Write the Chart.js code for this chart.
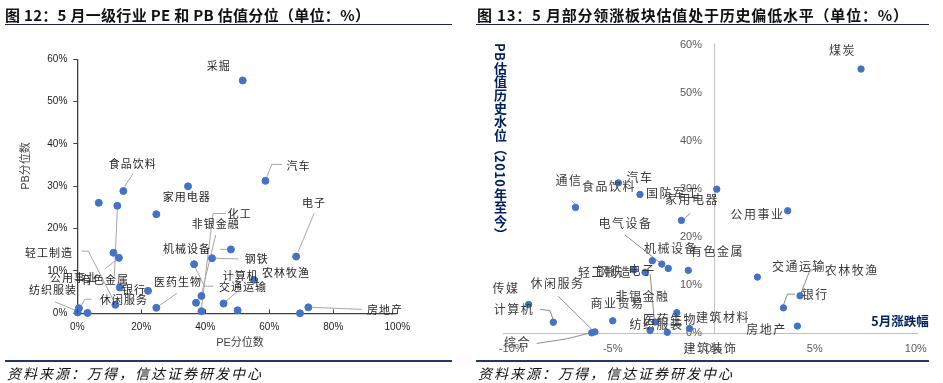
<!DOCTYPE html>
<html><head><meta charset="utf-8">
<script src="https://cdn.jsdelivr.net/npm/chart.js@4.4.1/dist/chart.umd.min.js"></script>
<style>
html,body{margin:0;padding:0;background:#fff;}
#wrap{position:relative;width:943px;height:383px;overflow:hidden;font-family:"Noto Sans CJK SC",sans-serif;}
canvas{position:absolute;top:0;}
.title{position:absolute;top:5px;font-size:15px;font-weight:700;color:#111;white-space:nowrap;line-height:20px;}
.rule{position:absolute;top:23.5px;height:0;border-top:1.5px solid #1c2541;}
.rule2{position:absolute;top:360px;height:0;border-top:2px solid #1f3864;}
.src{position:absolute;top:362.5px;font-size:14px;font-style:italic;letter-spacing:2px;color:#111;white-space:nowrap;line-height:20px;}
#ytitle13{position:absolute;left:493px;top:43px;writing-mode:vertical-rl;font-size:13px;font-weight:700;color:#002060;line-height:14px;white-space:nowrap;letter-spacing:0.4px;}
</style></head>
<body><div id="wrap">
<canvas id="c12" width="470" height="383" style="left:0"></canvas>
<canvas id="c13" width="473" height="383" style="left:470px"></canvas>
<div class="title" style="left:5px;letter-spacing:0.3px">图 12：5 月一级行业 PE 和 PB 估值分位（单位：%）</div>
<div class="rule" style="left:5px;width:447px"></div>
<div class="title" style="left:477px;letter-spacing:0.8px">图 13：5 月部分领涨板块估值处于历史偏低水平（单位：%）</div>
<div class="rule" style="left:476px;width:453px"></div>
<div id="ytitle13">PB估值历史水位（2010年至今）</div>
<div class="rule2" style="left:5px;width:447px"></div>
<div class="rule2" style="left:476px;width:453px"></div>
<div class="src" style="left:7px">资料来源：万得，信达证券研发中心</div>
<div class="src" style="left:478px">资料来源：万得，信达证券研发中心</div>
</div>
<script>
// ---------- Figure 12 data: PE percentile (x) vs PB percentile (y) ----------
const f12Names = ['采掘','汽车','食品饮料','家用电器','','有色金属','','电子','机械设备','钢铁','','公用事业','交通运输','非银金融','','化工','','','房地产','农林牧渔','银行','','轻工制造','休闲服务','纺织服装','','医药生物','计算机'];
const f12PE = [51.7,58.8,14.4,34.6,6.7,12.5,24.7,68.4,48.0,42.1,11.3,13.0,36.5,38.8,37.1,38.8,50.1,69.6,72.2,55.2,22.1,13.3,11.9,0.5,0.1,3.2,24.7,45.7];
const f12PB = [55.0,31.3,28.9,30.0,26.1,25.4,23.4,13.4,15.1,13.0,14.3,13.1,11.6,4.1,2.5,0.5,0.7,0.0,1.4,7.9,5.3,6.1,2.0,1.2,0.2,0.1,1.3,2.3];
const f12XTicks = [0,20,40,60,80,100];
const f12YTicks = [0,10,20,30,40,50,60];

// ---------- Figure 13 data: May change (x) vs PB historical percentile (y) ----------
const f13Names = ['煤炭','通信','汽车','食品饮料','国防军工','家用电器','公用事业','电气设备','机械设备','有色金属','钢铁','电子','轻工制造','交通运输','农林牧渔','银行','房地产','传媒','计算机','综合','休闲服务','商业贸易','非银金融','建筑材料','纺织服装','医药生物','建筑装饰'];
const f13Chg = [7.29,-6.84,-4.72,-3.65,0.15,-1.6,3.66,-2.57,-3.04,-1.26,-2.25,-3.95,-3.4,2.16,4.27,3.45,4.14,-9.16,-7.94,-6.04,-5.88,-5.0,-2.9,-1.83,-3.15,-2.3,-1.2];
const f13PB = [55.0,26.2,31.3,28.9,30.0,23.5,25.5,14.4,15.1,13.1,13.5,13.2,12.7,11.7,7.8,5.3,1.5,6.0,2.3,0.1,0.3,2.6,2.35,4.3,0.6,0.2,1.0];
const f13XTicks = [-10,-5,0,5,10];
const f13YTicks = [0,10,20,30,40,50,60];

// ---------- label layout (pixel offsets from each point) ----------
const f12LabelOff = [[-24,-15],[33,-15],[9.3,-27],[-1.3,10.4],null,[-12.3,74.5],null,[17.7,-54],[-44,-1],[44.7,1],null,[-45,20],[49,22.7],[14.3,-71.7],null,[38.3,-97.7],null,null,[76.7,2],[32,-6.7],[-14,-1],null,[-66.3,-52],[45,-8.3],[-24.7,-22.3],null,[21.7,-26],[17.3,-28]];
const f12Leaders = {1:[[1.4,-4],[6.4,-16.4],[16.4,-16.4]],2:[[1.3,-4.5],[9.6,-17.2]],5:[[0,4],[-3,71]],7:[[2,-5],[18,-43.3]],8:[[-11,0],[-4,0]],9:[[4,0],[26.3,0.7]],11:[[-1.3,1.3],[-14,11]],12:[[1,3],[10.3,22],[19.3,22]],13:[[0.3,-3],[14.3,-61]],15:[[0,-3],[11.6,-97.7],[24.3,-97.7]],18:[[4,0],[53.4,2]],22:[[-0.3,-1.4],[-27,-53.7],[-33.6,-53.7]],23:[[1,0],[6,-9],[12.7,-9]],24:[[-0.5,-1.5],[-22.7,-10.6]],26:[[2,-1.5],[20.4,-14.4]],27:[[0,-0.4],[18,-15.4]]};
const f13LabelOff = [[-18.5,-19],[-6.5,-27.3],[21.7,-5.4],[-31,-8.3],[-43.7,4.1],[10.7,-21.2],[-30.2,4],[-36.2,-40.7],[18.7,-12.4],[28.7,-18.8],[-58.3,2.7],[8,1],[-40,-0.3],[41.7,-10.6],[51.7,-25],[31.7,-13.7],[-31,3.3],[-22.7,-16],[-39.3,-13],[-74.2,10],[-37.5,-48.4],[4.8,-17],[-12.7,-25.3],[46.3,4.6],[6.5,-5.5],[2.7,-13.2],[21,19.8]];
const f13Leaders = {1:[[-3.8,-6.6],[-0.5,-3]],5:[[3.7,-2.2],[8.7,-7.2]],7:[[-36.7,-29],[-2,-1.5]],14:[[1,-2.7],[10,-26],[18.3,-26]],15:[[0,-2.7],[4,-13.7],[11.7,-13.7]],18:[[0,-2.3],[-3.3,-11.6],[-13.3,-13]],19:[[-3.4,0.6],[-25,6],[-55,10.6]],20:[[-1.7,-1],[-36.7,-35.7]],22:[[-1,-3],[-5,-48]]};

const pts = (xs, ys) => xs.map((x, i) => ({x, y: ys[i]}));

const labelPlugin = {
  id: 'ptLabels',
  beforeDatasetsDraw(chart, args, o) {
    const ctx = chart.ctx, meta = chart.getDatasetMeta(0);
    ctx.save();
    ctx.strokeStyle = o.leaderColor; ctx.lineWidth = 1;
    Object.keys(o.leaders).forEach(k => {
      const el = meta.data[+k]; const p = o.leaders[k];
      ctx.beginPath();
      p.forEach(([dx, dy], j) => { const x = el.x + dx, y = el.y + dy; j ? ctx.lineTo(x, y) : ctx.moveTo(x, y); });
      ctx.stroke();
    });
    ctx.restore();
  },
  afterDatasetsDraw(chart, args, o) {
    const ctx = chart.ctx, meta = chart.getDatasetMeta(0);
    ctx.save();
    ctx.font = o.font; ctx.fillStyle = o.color; ctx.textAlign = 'center'; ctx.textBaseline = 'middle';
    if ('letterSpacing' in ctx) ctx.letterSpacing = o.spacing;
    o.names.forEach((n, i) => {
      if (!n || !o.offsets[i]) return;
      const el = meta.data[i];
      ctx.fillText(n, el.x + o.offsets[i][0], el.y + o.offsets[i][1]);
    });
    ctx.restore();
  }
};

// extra decorations for fig 12: inside x tick marks + axis titles
const deco12 = {
  id: 'deco12',
  afterDraw(chart) {
    const ctx = chart.ctx, xs = chart.scales.x, ys = chart.scales.y;
    ctx.save();
    ctx.strokeStyle = '#404040'; ctx.lineWidth = 1;
    f12XTicks.forEach(v => {
      const x = Math.round(xs.getPixelForValue(v)) + 0.5;
      ctx.beginPath(); ctx.moveTo(x, ys.bottom); ctx.lineTo(x, ys.bottom - 4); ctx.stroke();
    });
    ctx.fillStyle = '#404040';
    ctx.font = '11px "Liberation Sans","Noto Sans CJK SC"';
    ctx.textAlign = 'center'; ctx.textBaseline = 'middle';
    ctx.fillText('PE分位数', 240, 342.7);
    ctx.translate(26, 166); ctx.rotate(-Math.PI / 2);
    ctx.fillText('PB分位数', 0, 0);
    ctx.restore();
  }
};

// decorations for fig 13: y axis crossing at x=0, its labels, x axis title
const deco13 = {
  id: 'deco13',
  beforeDatasetsDraw(chart) {
    const ctx = chart.ctx, xs = chart.scales.x, ys = chart.scales.y;
    const x0 = Math.round(xs.getPixelForValue(0)) + 0.5;
    ctx.save();
    ctx.strokeStyle = '#bfbfbf'; ctx.lineWidth = 1;
    ctx.beginPath(); ctx.moveTo(x0, ys.top - 1.5); ctx.lineTo(x0, ys.bottom); ctx.stroke();
    ctx.fillStyle = '#595959'; ctx.font = '11px "Liberation Sans",Arial';
    ctx.textAlign = 'right'; ctx.textBaseline = 'middle';
    f13YTicks.forEach(v => ctx.fillText(v + '%', x0 - 12.5, ys.getPixelForValue(v)));
    ctx.restore();
  },
  afterDraw(chart) {
    const ctx = chart.ctx;
    ctx.save();
    ctx.fillStyle = '#002060'; ctx.font = 'bold 12.5px "Noto Sans CJK SC"';
    ctx.textAlign = 'center'; ctx.textBaseline = 'middle';
    ctx.fillText('5月涨跌幅', 430, 321.7);
    ctx.restore();
  }
};

new Chart(document.getElementById('c12'), {
  type: 'scatter',
  data: { datasets: [{ data: pts(f12PE, f12PB), backgroundColor: '#4472C4', borderColor: '#4472C4', pointRadius: 3.5, pointHoverRadius: 3.5, clip: false }] },
  options: {
    responsive: false, animation: false, devicePixelRatio: 1,
    layout: { padding: { left: 0, right: 72.7, top: 59.3, bottom: 39.7 } },
    plugins: { legend: { display: false }, tooltip: { enabled: false },
      ptLabels: { names: f12Names, offsets: f12LabelOff, leaders: f12Leaders, font: '11px "Noto Sans CJK SC"', color: '#262626', spacing: '1px', leaderColor: '#a6a6a6' } },
    scales: {
      x: { type: 'linear', min: 0, max: 100,
        afterBuildTicks: s => { s.ticks = f12XTicks.map(v => ({ value: v })); },
        afterFit: s => { s.height = 30; },
        grid: { display: false, drawTicks: false },
        border: { display: true, color: '#404040', width: 1.3 },
        ticks: { padding: 8, color: '#1a1a1a', font: { family: '"Liberation Sans", Arial', size: 10 }, callback: v => v + '%', maxRotation: 0 } },
      y: { type: 'linear', min: 0, max: 60,
        afterBuildTicks: s => { s.ticks = f12YTicks.map(v => ({ value: v })); },
        afterFit: s => { s.width = 77.3; },
        grid: { display: true, drawOnChartArea: false, drawTicks: true, tickLength: 4, color: '#404040' },
        border: { display: true, color: '#404040', width: 1.3 },
        ticks: { padding: 6, color: '#1a1a1a', font: { family: '"Liberation Sans", Arial', size: 10 }, callback: v => v + '%' } }
    }
  },
  plugins: [labelPlugin, deco12]
});

new Chart(document.getElementById('c13'), {
  type: 'scatter',
  data: { datasets: [{ data: pts(f13Chg, f13PB), backgroundColor: '#4472C4', borderColor: '#4472C4', pointRadius: 3.2, pointHoverRadius: 3.2, clip: false }] },
  options: {
    responsive: false, animation: false, devicePixelRatio: 1,
    layout: { padding: { left: 33, right: 26, top: 45, bottom: 19.7 } },
    plugins: { legend: { display: false }, tooltip: { enabled: false },
      ptLabels: { names: f13Names, offsets: f13LabelOff, leaders: f13Leaders, font: '12px "Noto Sans CJK SC"', color: '#3a3a3a', spacing: '1.5px', leaderColor: '#8c8c8c' } },
    scales: {
      x: { type: 'linear', min: -10.43, max: 10.06,
        afterBuildTicks: s => { s.ticks = f13XTicks.map(v => ({ value: v })); },
        afterFit: s => { s.height = 30; },
        grid: { display: false, drawTicks: false },
        border: { display: true, color: '#bfbfbf', width: 1 },
        ticks: { padding: 9, color: '#595959', font: { family: '"Liberation Sans", Arial', size: 11 }, callback: v => v + '%', maxRotation: 0 } },
      y: { type: 'linear', min: 0, max: 60, display: false }
    }
  },
  plugins: [labelPlugin, deco13]
});
</script>
</body></html>
